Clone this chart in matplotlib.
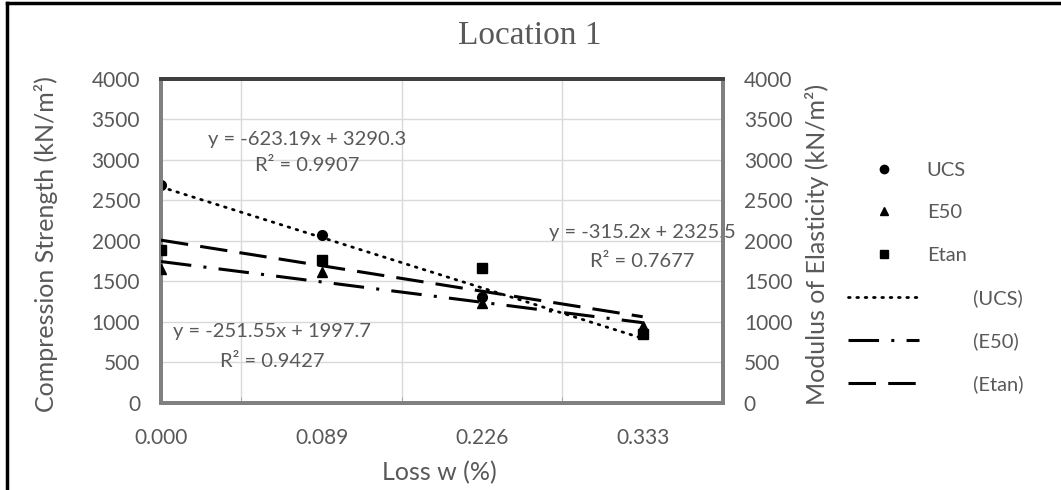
#================================================================================
# Location 1 - compression strength / modulus vs loss w
#================================================================================

import matplotlib.pyplot as plt
from matplotlib.lines import Line2D

#================================================================================
# Data

loss_labels = ["0.000", "0.089", "0.226", "0.333"]

ucs_vals = [2685, 2075, 1305, 865]
e50_vals = [1660, 1620, 1240, 955]
etan_vals = [1890, 1770, 1670, 850]

# Excel linear trendlines (x = category number 1..4)
ucs_fit = (-623.19, 3290.3, 0.9907)
e50_fit = (-251.55, 1997.7, 0.9427)
etan_fit = (-315.2, 2325.5, 0.7677)

#================================================================================
# Style

txt_col = "#595959"
plt.rcParams["font.family"] = ["Lato", "DejaVu Sans"]

fig = plt.figure(figsize=(10.61, 4.9), dpi=100)
ax = fig.add_axes([0.1517, 0.1776, 0.5297, 0.6612])
ax2 = ax.twinx()

x = list(range(len(loss_labels)))


def trend(fit):
    return [fit[0] * (i + 1) + fit[1] for i in x]


# points
ax.plot(x, ucs_vals, "o", color="black", ms=7, zorder=5)
ax2.plot(x, e50_vals, "^", color="black", ms=7, zorder=5)
ax2.plot(x, etan_vals, "s", color="black", ms=6.5, zorder=5)

# trendlines
ax.plot(x, trend(ucs_fit), color="black", lw=2, ls=(0, (0.6, 2.4)),
        dash_capstyle="round", zorder=4)
ax2.plot(x, trend(e50_fit), color="black", lw=2.2, ls=(0, (10, 4, 1, 4)), zorder=4)
ax2.plot(x, trend(etan_fit), color="black", lw=2.2, ls=(0, (9, 4)), zorder=4)

# axes setup
for a in (ax, ax2):
    a.set_ylim(0, 4000)
    a.set_yticks(range(0, 4001, 500))
    a.tick_params(axis="y", length=0, labelsize=15, labelcolor=txt_col)
ax.tick_params(axis="y", pad=15)
ax2.tick_params(axis="y", pad=15)
ax.set_xlim(0, 3.5)
ax.set_xticks(x)
ax.set_xticklabels(loss_labels)
ax.set_xticks([0.5 * k for k in range(8)], minor=True)
ax.tick_params(axis="x", which="major", length=0, labelsize=15,
               labelcolor=txt_col, pad=18)
ax.tick_params(axis="x", which="minor", length=4, direction="in", color="#a0a0a0")
ax.grid(True, which="major", axis="y", color="#d9d9d9", lw=1)
ax.grid(True, which="minor", axis="x", color="#d9d9d9", lw=1)
ax.set_axisbelow(True)

for a in (ax, ax2):
    for s in a.spines.values():
        s.set_color("#808080")
        s.set_linewidth(2.8)
    a.spines["top"].set_color("#404040")
ax2.patch.set_visible(False)

ax.set_ylabel("Compression Strength (kN/m²)", fontsize=18, color=txt_col)
ax2.set_ylabel("Modulus of Elasticity (kN/m²)", fontsize=18, color=txt_col)
ax.yaxis.set_label_coords(-0.183, 0.49)
ax2.yaxis.set_label_coords(1.146, 0.49)
ax.set_xlabel("Loss w (%)", fontsize=18, color=txt_col)
ax.xaxis.set_label_coords(0.496, -0.178)

fig.text(0.499, 0.928, "Location 1", fontsize=24, color=txt_col,
         family="Liberation Serif", ha="center", va="center")

# trendline equations
eq_kw = dict(fontsize=14.5, color=txt_col, ha="center", va="center")
ax.text(0.91, 3247, "y = %.2fx + %.1f" % ucs_fit[:2], **eq_kw)
ax.text(0.91, 2938, "R² = %.4f" % ucs_fit[2], **eq_kw)
ax.text(0.69, 877, "y = %.2fx + %.1f" % e50_fit[:2], **eq_kw)
ax.text(0.69, 506, "R² = %.4f" % e50_fit[2], **eq_kw)
ax.text(3.0, 2099, "y = %.1fx + %.1f" % etan_fit[:2], zorder=6, **eq_kw)
ax.text(3.0, 1741, "R² = %.4f" % etan_fit[2], zorder=6, **eq_kw)

# legend
handles = [
    Line2D([], [], ls="none", marker="o", color="black", ms=6),
    Line2D([], [], ls="none", marker="^", color="black", ms=6),
    Line2D([], [], ls="none", marker="s", color="black", ms=5.5),
    Line2D([], [], color="black", lw=2, ls=(0, (0.6, 2.4)), dash_capstyle="round"),
    Line2D([], [], color="black", lw=2.2, ls=(0, (10, 4, 1, 4))),
    Line2D([], [], color="black", lw=2.2, ls=(0, (9, 4))),
]
pad = " " * 9
labels = ["UCS", "E50", "Etan", pad + "(UCS)", pad + "(E50)", pad + "(Etan)"]
leg = fig.legend(handles, labels, loc="upper left", bbox_to_anchor=(0.79, 0.69),
                 frameon=False, fontsize=14.5, handlelength=3.5, handletextpad=0.4,
                 labelspacing=1.25, borderpad=0)
for t in leg.get_texts():
    t.set_color(txt_col)

# outer frame (left and top edges)
fig.add_artist(Line2D([0.0065, 0.0065], [0, 0.993], color="black", lw=2.5))
fig.add_artist(Line2D([0.0065, 1], [0.993, 0.993], color="black", lw=2.5))

fig.savefig("out.png", dpi=100)
